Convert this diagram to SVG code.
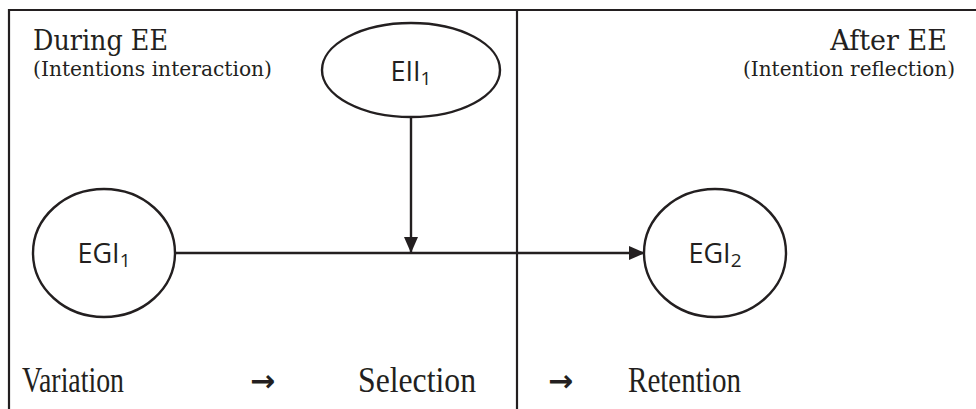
<svg xmlns="http://www.w3.org/2000/svg" width="976" height="409" viewBox="0 0 976 409">
<style>
.frame{stroke:#231f20;stroke-width:2.2;fill:none}
.node{fill:#fff;stroke:#231f20;stroke-width:2.4}
.lbl{font-family:"Open Sans","Noto Sans",sans-serif;font-size:27px;fill:#231f20;text-anchor:middle}
.sub{font-size:19px}
.hd{font-family:"DejaVu Serif","Liberation Serif",serif;fill:#231f20}
.bt{font-family:"Liberation Serif",serif;font-size:35px;fill:#231f20}
.ar{font-family:"DejaVu Sans",sans-serif;font-size:30px;font-weight:bold;fill:#231f20}
.conn{stroke:#231f20;stroke-width:2.4;fill:none}
</style>
<defs>
<marker id="ah" markerWidth="16" markerHeight="14" refX="16" refY="7" orient="auto" markerUnits="userSpaceOnUse">
<path d="M0,0 L16,7 L0,14 Z" fill="#231f20"/>
</marker>
</defs>
<rect width="976" height="409" fill="#fff"/>
<g id="frame">
<line class="frame" x1="9" y1="10" x2="976" y2="10"/>
<line class="frame" x1="9" y1="9" x2="9" y2="409"/>
<line class="frame" x1="517" y1="10" x2="517" y2="409"/>
</g>
<g id="headers">
<text class="hd" x="33" y="50" font-size="27" textLength="135" lengthAdjust="spacingAndGlyphs">During EE</text>
<text class="hd" x="33" y="76" font-size="20" textLength="239" lengthAdjust="spacingAndGlyphs">(Intentions interaction)</text>
<text class="hd" x="947" y="50" font-size="27" text-anchor="end">After EE</text>
<text class="hd" x="955" y="76" font-size="20" text-anchor="end">(Intention reflection)</text>
</g>
<g id="connectors">
<line class="conn" x1="411" y1="117" x2="411" y2="253" marker-end="url(#ah)"/>
<line class="conn" x1="175" y1="253" x2="645" y2="253" marker-end="url(#ah)"/>
</g>
<g id="EII1">
<ellipse class="node" cx="411" cy="70" rx="89" ry="47"/>
<text class="lbl" x="411" y="81">EII<tspan class="sub" dy="4">1</tspan></text>
</g>
<g id="EGI1">
<ellipse class="node" cx="104" cy="253" rx="71" ry="64"/>
<text class="lbl" x="104" y="263">EGI<tspan class="sub" dy="4">1</tspan></text>
</g>
<g id="EGI2">
<ellipse class="node" cx="715" cy="253" rx="71" ry="64"/>
<text class="lbl" x="715" y="263">EGI<tspan class="sub" dy="4">2</tspan></text>
</g>
<g id="footer">
<text class="bt" x="22" y="392" textLength="102" lengthAdjust="spacingAndGlyphs">Variation</text>
<text class="ar" x="250" y="391">→</text>
<text class="bt" x="358" y="392" textLength="118" lengthAdjust="spacingAndGlyphs">Selection</text>
<text class="ar" x="548" y="391">→</text>
<text class="bt" x="628" y="392" textLength="113" lengthAdjust="spacingAndGlyphs">Retention</text>
</g>
</svg>
